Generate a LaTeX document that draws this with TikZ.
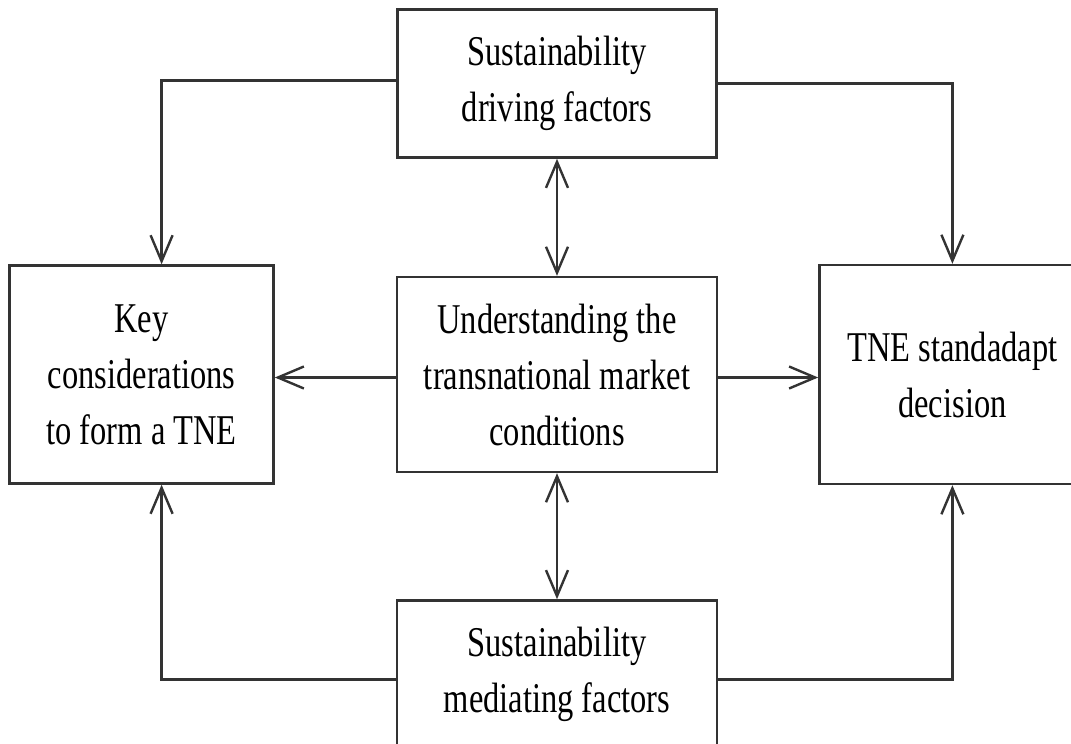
\documentclass[tikz,border=0pt]{standalone}
\usepackage{fontspec}
\setmainfont{Liberation Serif}[FakeStretch=0.766]
\usetikzlibrary{positioning}
\usetikzlibrary{arrows.meta}
\tikzset{
  factorbox/.style={rectangle,draw=black!80,line width=1.2pt,
                    align=center,inner sep=0pt,
                    font=\fontsize{21.2}{28}\selectfont},
  flow/.style={line width=1.2pt,draw=black!80,
               -{Straight Barb[length=13pt,width=11pt,line width=1.2pt]}},
  twoway/.style={line width=1.2pt,draw=black!80,
               {Straight Barb[length=13pt,width=11pt,line width=1.2pt]}-{Straight Barb[length=13pt,width=11pt,line width=1.2pt]}},
}

\begin{document}
\begin{tikzpicture}
  \clip (0pt,0pt) rectangle (535.5pt,-372pt);

  \node[factorbox,minimum width=160pt,minimum height=97.5pt]
      (market) at (278.5pt,-187.25pt)
      {Understanding the\\transnational market\\conditions};
  \node[factorbox,minimum width=159.5pt,minimum height=74pt]
      (driving) [above=58.5pt of market]
      {Sustainability\\driving factors};
  \node[factorbox,minimum width=160pt,minimum height=74pt]
      (mediating) [below=63pt of market]
      {Sustainability\\mediating factors};
  \node[factorbox,minimum width=132pt,minimum height=109pt]
      (key) [left=60.5pt of market]
      {Key\\considerations\\to form a TNE};
  \node[factorbox,minimum width=133pt,minimum height=109.5pt]
      (decision) [right=50pt of market]
      {TNE standadapt\\decision};

  % side branches reach the left box off its centre
  \coordinate (keyin)  at ([xshift=10pt]key.north);
  \coordinate (keyout) at ([xshift=10pt]key.south);

  \draw[flow] ([yshift=1.5pt]driving.west) -| (keyin);
  \draw[flow] (driving.east) -| (decision.north);
  \draw[flow] ([yshift=-2.5pt]mediating.west) -| (keyout);
  \draw[flow] ([yshift=-2.5pt]mediating.east) -| (decision.south);

  \draw[twoway] (driving) -- (market);
  \draw[twoway] (market) -- (mediating);

  \draw[flow] ([yshift=-1.5pt]market.west) -- ([yshift=-1.5pt]market.west -| key.east);
  \draw[flow] ([yshift=-1.5pt]market.east) -- ([yshift=-1.5pt]market.east -| decision.west);
\end{tikzpicture}
\end{document}
